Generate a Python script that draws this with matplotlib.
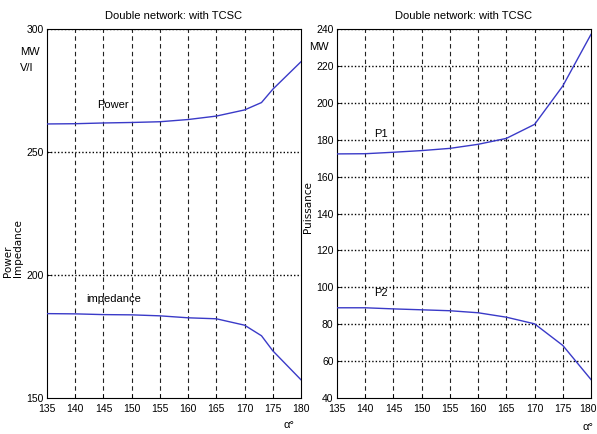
import matplotlib
matplotlib.use("Agg")
import matplotlib.pyplot as plt
from matplotlib.font_manager import FontProperties
from matplotlib.transforms import ScaledTranslation

# ---- data ----
alpha_left = [135, 140, 145, 150, 155, 160, 165, 170, 173, 175, 180]
power = [261.4, 261.5, 261.8, 262.0, 262.3, 263.2, 264.6, 267.1, 270.1, 275.5, 286.7]
impedance = [184.3, 184.2, 183.9, 183.8, 183.4, 182.6, 182.2, 179.6, 175.3, 169.2, 157.4]

alpha_right = [135, 140, 145, 150, 155, 160, 165, 170, 175, 180]
p1 = [172.3, 172.4, 173.2, 174.1, 175.3, 177.5, 180.7, 188.3, 209.1, 237.1]
p2 = [88.9, 88.9, 88.3, 87.8, 87.3, 86.2, 83.8, 80.2, 68.5, 50.0]

xticks = [135, 140, 145, 150, 155, 160, 165, 170, 175, 180]
left_yticks = [150, 200, 250, 300]
right_yticks = [40, 60, 80, 100, 120, 140, 160, 180, 200, 220, 240]
title = "Double network: with TCSC"

NSIZE = 7.5

def nf(size=NSIZE):
    return FontProperties(family="Liberation Sans", size=size)

def wf(size):
    return FontProperties(family="DejaVu Sans", size=size)

LINE = "#3a3ac8"

fig = plt.figure(figsize=(5.97, 4.34), dpi=100)
axL = fig.add_axes([47/597, 1-398/434, 254/597, 369/434])
axR = fig.add_axes([337/597, 1-398/434, 254/597, 369/434])

def style(ax, yticks, ylim):
    ax.set_xlim(135, 180)
    ax.set_ylim(*ylim)
    ax.set_xticks(xticks)
    ax.set_yticks(yticks)
    for lbl in ax.get_xticklabels() + ax.get_yticklabels():
        lbl.set_fontproperties(nf())
    ax.tick_params(direction="in", length=3, width=0.6, colors="black")
    ax.tick_params(axis="x", pad=4)
    ax.tick_params(axis="y", pad=2.5)
    for x in xticks[1:-1]:
        ax.axvline(x, color="#222222", lw=0.8, ls=(0, (4, 3)), zorder=1)
    for y in yticks[1:]:
        ax.axhline(y, color="black", lw=1.0, ls=(0, (1, 1.5)), zorder=1)
    for s in ax.spines.values():
        s.set_linewidth(0.8)
    ax.set_title(title, fontproperties=nf(8), pad=7)

style(axL, left_yticks, (150, 300))
style(axR, right_yticks, (40, 240))

# keep the last tick label of the right axes inside the figure
last = axR.get_xticklabels()[-1]
last.set_transform(last.get_transform() + ScaledTranslation(-3/100, 0, fig.dpi_scale_trans))

axL.plot(alpha_left, power, color=LINE, lw=1.0, zorder=3)
axL.plot(alpha_left, impedance, color=LINE, lw=1.0, zorder=3)
axL.text(143.8, 268, "Power", fontproperties=nf(8))
axL.text(142.0, 189, "impedance", fontproperties=nf(8))

axR.plot(alpha_right, p1, color=LINE, lw=1.0, zorder=3)
axR.plot(alpha_right, p2, color=LINE, lw=1.0, zorder=3)
axR.text(141.6, 181.5, "P1", fontproperties=nf(8))
axR.text(141.6, 95.5, "P2", fontproperties=nf(8))

# units / labels
fig.text(20/597, 1-52/434, "MW", fontproperties=nf(8), va="center")
fig.text(20/597, 1-68/434, "V/I", fontproperties=nf(8), va="center")
fig.text(309/597, 1-47/434, "MW", fontproperties=nf(8), va="center")
fig.text(13/597, 1-248/434, "Power\nImpedance", fontproperties=wf(7.5),
         rotation=90, ha="center", va="center", multialignment="left",
         linespacing=1.0)
fig.text(308/597, 1-207/434, "Puissance", fontproperties=wf(7.5),
         rotation=90, ha="center", va="center")
fig.text(289/597, 1-425/434, "α°", fontproperties=nf(8), ha="center", va="center")
fig.text(588/597, 1-427/434, "α°", fontproperties=nf(8), ha="center", va="center")

fig.savefig("out.png", dpi=100)
